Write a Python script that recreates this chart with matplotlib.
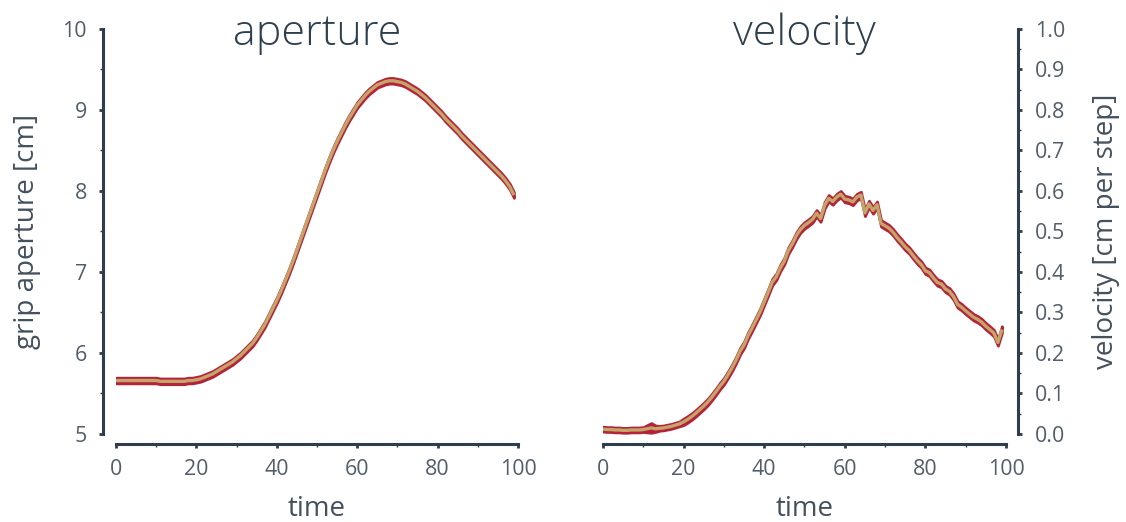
import numpy as np
import matplotlib as mpl
import matplotlib.pyplot as plt
from matplotlib.ticker import MultipleLocator

mpl.use('agg')

plt.rcParams['font.family'] = ['Open Sans', 'DejaVu Sans']
plt.rcParams['font.weight'] = 'light'

# mean grip aperture per time step [cm]
aperture = [5.66, 5.66, 5.66, 5.66, 5.66, 5.66, 5.66, 5.66, 5.66, 5.66,
            5.66, 5.65, 5.65, 5.65, 5.65, 5.65, 5.65, 5.65, 5.66, 5.66,
            5.67, 5.68, 5.70, 5.72, 5.74, 5.77, 5.80, 5.83, 5.86, 5.89,
            5.93, 5.97, 6.02, 6.07, 6.12, 6.19, 6.27, 6.35, 6.45, 6.55,
            6.65, 6.76, 6.88, 7.00, 7.13, 7.27, 7.41, 7.55, 7.69, 7.83,
            7.97, 8.11, 8.25, 8.38, 8.50, 8.61, 8.71, 8.81, 8.90, 8.98,
            9.06, 9.12, 9.18, 9.23, 9.27, 9.31, 9.33, 9.35, 9.36, 9.36,
            9.35, 9.34, 9.32, 9.29, 9.26, 9.23, 9.19, 9.15, 9.10, 9.05,
            9.00, 8.95, 8.89, 8.84, 8.79, 8.74, 8.68, 8.63, 8.58, 8.53,
            8.48, 8.43, 8.38, 8.33, 8.28, 8.23, 8.18, 8.12, 8.05, 7.95]
aperture_sd = [0.035] * 100

# mean velocity per time step [cm per step]
velocity = [0.012, 0.011, 0.011, 0.010, 0.010, 0.009, 0.009, 0.010, 0.010, 0.010,
            0.011, 0.013, 0.015, 0.013, 0.014, 0.015, 0.017, 0.019, 0.022, 0.025,
            0.030, 0.036, 0.043, 0.051, 0.060, 0.069, 0.079, 0.091, 0.104, 0.118,
            0.130, 0.146, 0.163, 0.182, 0.204, 0.220, 0.243, 0.262, 0.282, 0.302,
            0.326, 0.350, 0.375, 0.388, 0.410, 0.427, 0.453, 0.470, 0.490, 0.505,
            0.515, 0.522, 0.530, 0.545, 0.532, 0.565, 0.582, 0.574, 0.585, 0.592,
            0.580, 0.578, 0.573, 0.585, 0.590, 0.546, 0.568, 0.552, 0.566, 0.520,
            0.514, 0.508, 0.498, 0.485, 0.474, 0.462, 0.453, 0.440, 0.428, 0.418,
            0.403, 0.398, 0.385, 0.374, 0.370, 0.358, 0.352, 0.339, 0.320, 0.313,
            0.304, 0.296, 0.288, 0.283, 0.276, 0.266, 0.258, 0.249, 0.226, 0.258]
velocity_sd = [0.006, 0.006, 0.006, 0.006, 0.006, 0.006, 0.006, 0.006, 0.006, 0.006,
               0.006, 0.009, 0.012, 0.008, 0.006, 0.006, 0.006, 0.006, 0.006, 0.006] + [0.008] * 80

time = np.arange(100)

RED = '#b3243a'
TAN = '#c4a468'
INK = '#2f3e4c'
TXT = '#44515d'
TICK = '#525e69'


def style_axes(ax, side):
    for s in ['top', 'right', 'left', 'bottom']:
        ax.spines[s].set_visible(False)
    ax.spines[side].set_visible(True)
    ax.spines['bottom'].set_visible(True)
    ax.spines[side].set_position(('outward', 9))
    ax.spines['bottom'].set_position(('outward', 7))
    for s in [side, 'bottom']:
        ax.spines[s].set_color(INK)
        ax.spines[s].set_linewidth(2.2)
    ax.tick_params(which='major', length=3, width=2, color=INK,
                   labelsize=15.4, labelcolor=TICK)
    ax.tick_params(which='minor', length=2, width=1, color=INK)
    ax.tick_params(axis='y', pad=9)
    ax.tick_params(axis='x', pad=8)
    for lab in ax.get_xticklabels() + ax.get_yticklabels():
        lab.set_fontweight('normal')
    ax.xaxis.set_major_locator(MultipleLocator(20))
    ax.xaxis.set_minor_locator(MultipleLocator(10))
    ax.set_xlim(0, 100)
    ax.set_xlabel('time', fontsize=20, color=TXT, labelpad=11)


def draw_band(ax, mean, sd):
    mean = np.asarray(mean)
    sd = np.asarray(sd)
    ax.fill_between(time, mean - sd, mean + sd, color=RED, lw=2, edgecolor=RED)
    ax.plot(time, mean, color=TAN, lw=2.4, solid_capstyle='butt')


fig = plt.figure(figsize=(11.26, 5.22), dpi=100)

ax1 = fig.add_axes([0.1030, 0.1686, 0.3570, 0.7759])
draw_band(ax1, aperture, aperture_sd)
ax1.set_ylim(5, 10)
ax1.yaxis.set_major_locator(MultipleLocator(1))
ax1.yaxis.set_minor_locator(MultipleLocator(0.5))
style_axes(ax1, 'left')
ax1.set_ylabel('grip aperture [cm]', fontsize=20, color=TXT, labelpad=15)
ax1.text(0.5, 0.96, 'aperture', transform=ax1.transAxes, ha='center',
         va='baseline', fontsize=31, color=INK)

ax2 = fig.add_axes([0.5355, 0.1686, 0.3579, 0.7759])
draw_band(ax2, velocity, velocity_sd)
ax2.yaxis.tick_right()
ax2.yaxis.set_label_position('right')
ax2.set_ylim(0, 1)
ax2.yaxis.set_major_locator(MultipleLocator(0.1))
ax2.yaxis.set_minor_locator(MultipleLocator(0.05))
ax2.yaxis.set_major_formatter(mpl.ticker.FormatStrFormatter('%.1f'))
style_axes(ax2, 'right')
ax2.set_ylabel('velocity [cm per step]', fontsize=20, color=TXT, labelpad=19)
ax2.text(0.5, 0.96, 'velocity', transform=ax2.transAxes, ha='center',
         va='baseline', fontsize=31, color=INK)

fig.savefig('out.png', dpi=100)
